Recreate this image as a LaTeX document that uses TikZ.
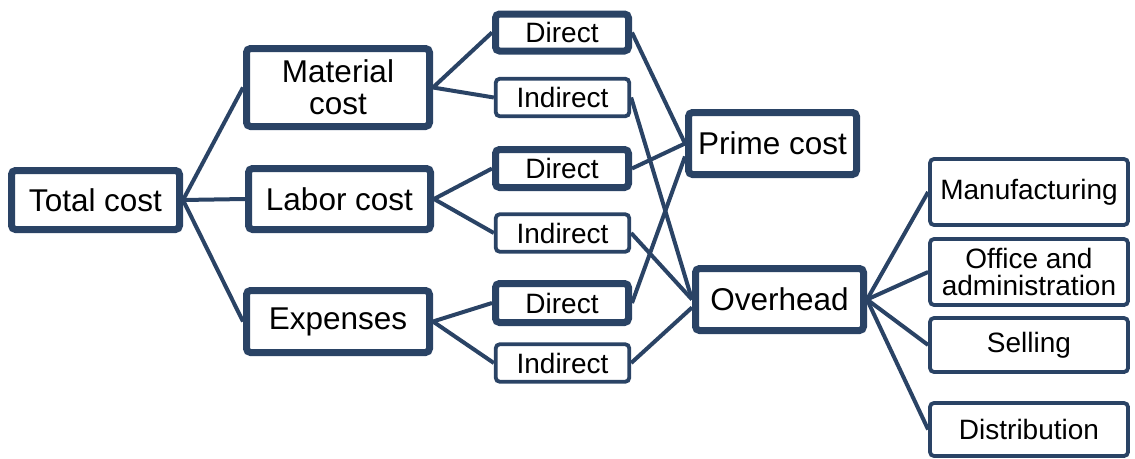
\documentclass[tikz,border=0pt]{standalone}
\usepackage{fontspec}
\setmainfont{Liberation Sans}
\definecolor{navy}{RGB}{42,67,101}
\begin{document}
\begin{tikzpicture}[x=1pt,y=-1pt,
  box/.style={draw=navy,fill=white,rounded corners=4pt,inner sep=0pt,align=center,text=black},
  thick box/.style={box,line width=7pt},
  thin box/.style={box,line width=3.8pt},
  big/.style={font=\fontsize{31.5}{32}\selectfont},
  small/.style={font=\fontsize{28}{27.5}\selectfont},
  link/.style={draw=navy,line width=4pt}]
\useasboundingbox (0,0) rectangle (1135,458);
% nodes
\node[thick box,big,minimum width=168pt,minimum height=59pt] (total) at (95.5,200) {Total cost};
\node[thick box,big,minimum width=183pt,minimum height=78pt] (mat) at (338,87.5) {Material\\cost};
\node[thick box,big,minimum width=182pt,minimum height=61pt] (lab) at (339.5,199) {Labor cost};
\node[thick box,big,minimum width=183pt,minimum height=62pt] (exp) at (338,321.5) {Expenses};
\node[thick box,small,minimum width=133pt,minimum height=37pt] (d1) at (562,32.5) {Direct};
\node[thin box,small,minimum width=133.5pt,minimum height=37.5pt] (i1) at (562.5,97.5) {Indirect};
\node[thick box,small,minimum width=133pt,minimum height=38pt] (d2) at (562,168.5) {Direct};
\node[thin box,small,minimum width=133.5pt,minimum height=37.5pt] (i2) at (562.5,233) {Indirect};
\node[thick box,small,minimum width=133pt,minimum height=39pt] (d3) at (562,303) {Direct};
\node[thin box,small,minimum width=133.5pt,minimum height=37.5pt] (i3) at (562.5,363) {Indirect};
\node[thick box,big,minimum width=168pt,minimum height=62pt] (prime) at (772.5,143.5) {Prime cost};
\node[thick box,big,minimum width=168pt,minimum height=62pt] (over) at (779.5,299.5) {Overhead};
\node[thin box,small,minimum width=198pt,minimum height=66pt] (man) at (1029,192) {Manufacturing};
\node[thin box,small,minimum width=198pt,minimum height=66pt,font=\fontsize{28}{27.3}\selectfont] (off) at (1029,272) {Office and\\administration};
\node[thin box,small,minimum width=198pt,minimum height=54pt] (sel) at (1029,345) {Selling};
\node[thin box,small,minimum width=198pt,minimum height=53pt] (dis) at (1029,429.5) {Distribution};
% connectors
\draw[link] (total.east) -- (mat.west);
\draw[link] (total.east) -- (lab.west);
\draw[link] (total.east) -- (exp.west);
\draw[link] (mat.east) -- (d1.west);
\draw[link] (mat.east) -- (i1.west);
\draw[link] (lab.east) -- (d2.west);
\draw[link] (lab.east) -- (i2.west);
\draw[link] (exp.east) -- (d3.west);
\draw[link] (exp.east) -- (i3.west);
\draw[link] (d1.east) -- (prime.west);
\draw[link] (d2.east) -- (prime.west);
\draw[link] (d3.east) -- ([yshift=-13pt]prime.west);
\draw[link] (i1.east) -- (over.west);
\draw[link] (i2.east) -- (over.west);
\draw[link] (i3.east) -- ([yshift=-8pt]over.west);
\draw[link] (over.east) -- (man.west);
\draw[link] (over.east) -- (off.west);
\draw[link] (over.east) -- (sel.west);
\draw[link] (over.east) -- (dis.west);
\end{tikzpicture}
\end{document}
